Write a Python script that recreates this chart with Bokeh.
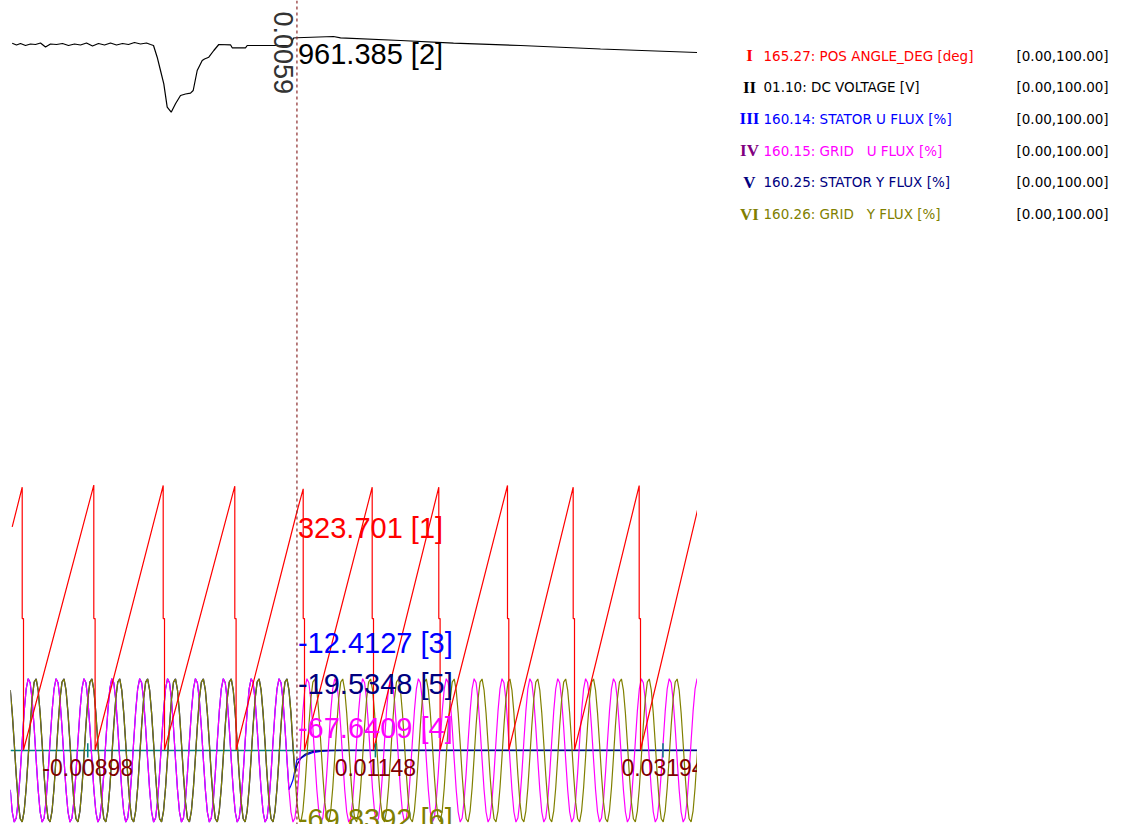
import numpy as np
from bokeh.plotting import figure
from bokeh.models import Range1d, Span, ColumnDataSource
from bokeh.layouts import row
from bokeh.embed import file_html
from bokeh.resources import INLINE
from bokeh.core.properties import value

# ---------------- time axis (seconds) ----------------
t_view = [-0.014477, 0.034396]
tick_t = [-0.00898, 0.01148, 0.03194]
tick_labels = ["-0.00898", "0.01148", "0.03194"]
cursor_t = 0.0059
cursor_label = "0.0059"

# ---------------- channel 1: position angle [deg] ----------------
ang_first = (-0.014356, 303.0)
peak_t = [-0.013644, -0.008551, -0.003614, 0.001480, 0.006346,
          0.011254, 0.015992, 0.020879, 0.025553, 0.030248]
peak_deg = [357.0, 359.9, 359.3, 358.4, 354.8, 357.0, 357.0, 359.3, 357.0, 359.3]
reset_t = [-0.013552, -0.008458, -0.003521, 0.001572, 0.006438,
           0.011347, 0.016085, 0.020972, 0.025646, 0.030341]
reset_mid_deg = 178.6
ang_last = (0.034396, 326.0)
ang_cursor = 323.701

# ---------------- channel 2: DC voltage [V] ----------------
dc_t = [-0.014356, -0.014050, -0.013765, -0.013410, -0.013054, -0.012698, -0.012343,
        -0.011987, -0.011631, -0.011204, -0.010778, -0.010351, -0.009924, -0.009497,
        -0.009070, -0.008643, -0.008217, -0.007790, -0.007363, -0.006936, -0.006509,
        -0.006082, -0.005656, -0.005229, -0.004802, -0.004517, -0.004304, -0.004041,
        -0.003806, -0.003571, -0.003329, -0.003045, -0.002739, -0.002383, -0.002027,
        -0.001672, -0.001480, -0.001195, -0.000839, -0.000676, -0.000370, -0.000014,
        0.000341, 0.001174, 0.001295, 0.002241, 0.002362, 0.004019, 0.005442,
        0.005656, 0.005900, 0.008501, 0.008999, 0.013267, 0.017038, 0.021804,
        0.027496, 0.034396]
dc_v = [958.65, 957.75, 958.5, 957.5, 958.25, 958.0, 958.75,
        956.75, 958.25, 958.0, 958.5, 957.5, 958.25, 957.75,
        958.75, 957.25, 958.5, 957.75, 958.75, 957.75, 958.5,
        958.0, 959.0, 958.25, 958.75, 958.0, 957.5, 951.65,
        945.0, 938.35, 926.65, 924.15, 928.35, 932.5, 933.25,
        933.65, 935.0, 945.0, 950.0, 950.75, 951.65, 955.0,
        958.0, 957.85, 956.35, 956.35, 957.5, 957.5, 957.5,
        961.25, 961.385, 962.0, 961.35, 960.0, 958.65, 957.5,
        955.75, 954.0]

# ---------------- channels 4 / 6: grid flux [%] ----------------
# one sampled cycle (14 samples), sample 0 taken at the cursor
flux_dt = 0.00014162
grid_u_cycle = [-67.6409, -30.68, 12.35, 52.94, 83.14, 96.75, 91.22,
                67.64, 30.68, -12.35, -53.08, -83.14, -96.75, -91.22]
grid_y_cycle = [-69.8392, -92.23, -96.41, -81.52, -50.35, -9.32, 33.56,
                69.80, 92.23, 96.41, 81.42, 50.35, 9.32, -33.56]
sample_first, sample_last = -144, 202

# ---------------- channels 3 / 5: stator flux [%] ----------------
stator_u_steps = [-47.0, -40.0, -26.0, -12.4127]          # samples -3 .. 0
stator_u_tail_t = [0.006189, 0.006580, 0.007007, 0.007576, 0.008288, 0.008999, 0.034396]
stator_u_tail_v = [-10.5, -6.0, -3.0, -1.2, -0.3, 0.0, 0.0]
stator_y_steps = [5.0, -31.0, -19.5348]                    # samples -2 .. 0
stator_y_tail_t = [0.006189, 0.006509, 0.007007, 0.007576, 0.008288, 0.034396]
stator_y_tail_v = [-10.0, -5.0, -1.5, -0.4, 0.0, 0.0]

# ---------------- legend ----------------
legend_numerals = ["I", "II", "III", "IV", "V", "VI"]
legend_names = ["165.27: POS ANGLE_DEG [deg]",
                "01.10: DC VOLTAGE [V]",
                "160.14: STATOR U FLUX [%]",
                "160.15: GRID\u00a0\u00a0\u00a0U FLUX [%]",
                "160.25: STATOR Y FLUX [%]",
                "160.26: GRID\u00a0\u00a0\u00a0Y FLUX [%]"]
legend_scales = ["[0.00,100.00]"] * 6

# ---------------- styling ----------------
C_ANG, C_DC, C_SU, C_GU, C_SY, C_GY = "#FF0000", "#000000", "#0000FF", "#FF00FF", "#000080", "#808000"
NUMERAL_COLORS = ["#FF0000", "#000000", "#0000FF", "#800080", "#000080", "#808000"]
NAME_COLORS = [C_ANG, C_DC, C_SU, C_GU, C_SY, C_GY]
AXIS_TEAL = "#008080"
CURSOR_RED = "#8B2A2A"
TICK_RED = "#800000"

W, H = 697, 824
LEFT = 10
FLUX_LO, FLUX_HI = -100.0, 1012.0
ANG_LO, ANG_HI = -101.2, 1018.2
DC_LO, DC_HI = 568.0, 980.0
FLUX_PER_PX = (FLUX_HI - FLUX_LO) / H
SEC_PER_PX = (t_view[1] - t_view[0]) / (W - LEFT)


def flux_at_px(py):
    """Flux-range coordinate of a screen row (0 = top of the plot)."""
    return FLUX_HI - py * FLUX_PER_PX


# ---------------- build series ----------------
ang_x, ang_y = [ang_first[0]], [ang_first[1]]
for tp, dp, tr in zip(peak_t, peak_deg, reset_t):
    if ang_x[-1] < cursor_t < tp:
        ang_x.append(cursor_t)
        ang_y.append(ang_cursor)
    ang_x += [tp, tp, tr, tr]
    ang_y += [dp, reset_mid_deg, reset_mid_deg, 0.0]
ang_x.append(ang_last[0])
ang_y.append(ang_last[1])

n = np.arange(sample_first, sample_last + 1)
flux_t = cursor_t + n * flux_dt
grid_u = np.array(grid_u_cycle)[n % 14]
grid_y = np.array(grid_y_cycle)[n % 14]

pre_u = n <= -4
su_t = np.concatenate([flux_t[pre_u], cursor_t + np.arange(-3, 1) * flux_dt, stator_u_tail_t])
su_v = np.concatenate([grid_u[pre_u], stator_u_steps, stator_u_tail_v])
pre_y = n <= -3
sy_t = np.concatenate([flux_t[pre_y], cursor_t + np.arange(-2, 1) * flux_dt, stator_y_tail_t])
sy_v = np.concatenate([grid_y[pre_y], stator_y_steps, stator_y_tail_v])

# ---------------- main scope figure ----------------
p = figure(width=W, height=H, x_range=Range1d(*t_view), y_range=Range1d(FLUX_LO, FLUX_HI),
           x_axis_type=None, y_axis_type=None, output_backend="svg", toolbar_location=None,
           min_border=0, min_border_left=LEFT)
p.extra_y_ranges = {"angle": Range1d(ANG_LO, ANG_HI), "dc": Range1d(DC_LO, DC_HI)}
p.grid.visible = False
p.outline_line_color = None
p.background_fill_color = "white"
p.border_fill_color = "white"

zero_line = Span(location=0, dimension="width", line_color=AXIS_TEAL, line_width=1.5)
zero_line.level = "underlay"
p.add_layout(zero_line)

p.line(su_t, su_v, line_color=C_SU, line_width=1.2)
p.line(sy_t, sy_v, line_color=C_SY, line_width=1.3)
p.line(flux_t, grid_u, line_color=C_GU, line_width=1.2)
p.line(flux_t, grid_y, line_color=C_GY, line_width=1.2)
p.line(ang_x, ang_y, line_color=C_ANG, line_width=1.2, y_range_name="angle")
p.line(dc_t, dc_v, line_color=C_DC, line_width=1.2, y_range_name="dc")

# time ticks sitting on the zero line
p.segment(x0=tick_t, y0=[-9.5] * 3, x1=tick_t, y1=[9.5] * 3, line_color=AXIS_TEAL, line_width=1.5)
p.text(x=tick_t, y=[flux_at_px(758.6)] * 3, text=tick_labels, text_color=TICK_RED,
       text_font=value("Liberation Sans"), text_font_size=value("23px"),
       text_align="center", text_baseline="top")

# cursor
cursor = Span(location=cursor_t, dimension="height", line_color=CURSOR_RED,
              line_width=1.2, line_dash="3 3")
p.add_layout(cursor)
p.text(x=[cursor_t - 4 * SEC_PER_PX], y=[flux_at_px(11)], text=[cursor_label], angle=-np.pi / 2,
       text_color="#333333", text_font=value("Liberation Sans"), text_font_size=value("27px"),
       text_align="left", text_baseline="top")

# cursor readouts
readout_font = dict(text_font=value("Liberation Sans"), text_font_size=value("29px"),
                    text_align="left", text_baseline="top")
p.text(x=[cursor_t], y=[961.385], text=["961.385 [2]"], text_color=C_DC,
       y_range_name="dc", x_offset=1, **readout_font)
p.text(x=[cursor_t], y=[ang_cursor], text=["323.701 [1]"], text_color=C_ANG,
       y_range_name="angle", x_offset=1, **readout_font)
flux_readouts = [("-12.4127 [3]", C_SU, 626.2),
                 ("-19.5348 [5]", C_SY, 667.8),
                 ("-67.6409 [4]", C_GU, 711.2),
                 ("-69.8392 [6]", C_GY, 802.5)]
for txt, col, py in flux_readouts:
    p.text(x=[cursor_t], y=[flux_at_px(py)], text=[txt], text_color=col, x_offset=1, **readout_font)

# ---------------- channel legend ----------------
lg = figure(width=1121 - W, height=H, x_range=Range1d(W, 1121), y_range=Range1d(H, 0),
            x_axis_type=None, y_axis_type=None, output_backend="svg", toolbar_location=None,
            min_border=0)
lg.grid.visible = False
lg.outline_line_color = None
rows_y = [55 + 31.7 * i for i in range(6)]
src = ColumnDataSource(dict(y=rows_y, num=legend_numerals, name=legend_names, scale=legend_scales,
                            ncol=NUMERAL_COLORS, tcol=NAME_COLORS))
lg.text(x=749, y="y", text="num", text_color="ncol", source=src,
        text_font=value("Liberation Serif"), text_font_style="bold", text_font_size=value("17px"),
        text_align="center", text_baseline="middle")
lg.text(x=763, y="y", text="name", text_color="tcol", source=src,
        text_font=value("DejaVu Sans"), text_font_size=value("13.5px"),
        text_align="left", text_baseline="middle")
lg.text(x=1016, y="y", text="scale", text_color="#000000", source=src,
        text_font=value("DejaVu Sans"), text_font_size=value("13.5px"),
        text_align="left", text_baseline="middle")

layout = row(p, lg)
open("out.html", "w").write(file_html(layout, INLINE))
